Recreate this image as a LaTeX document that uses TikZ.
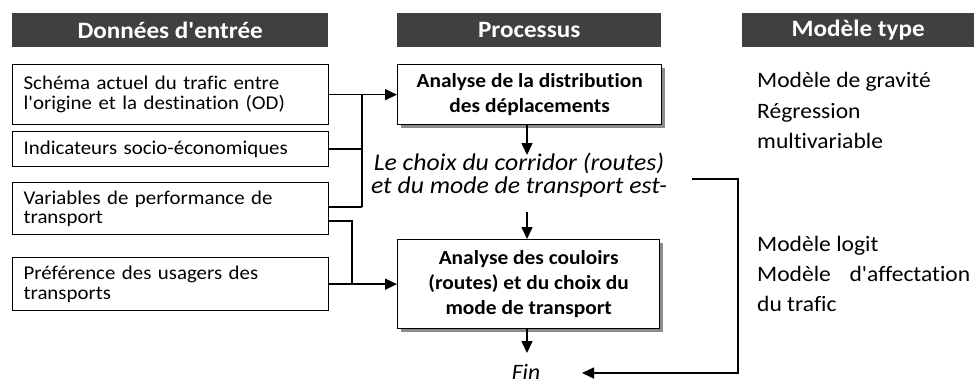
\documentclass[tikz,border=0pt]{standalone}
\usepackage{fontspec}
\setmainfont{Carlito}[FakeStretch=1.07, Ligatures={TeXOff,CommonOff}]
\usetikzlibrary{arrows.meta,shadows}
\definecolor{hdr}{HTML}{404040}
\begin{document}
\begin{tikzpicture}[x=1pt,y=-1pt,
  header/.style={fill=hdr, text=white, font=\bfseries\fontsize{23.5}{26}\selectfont,
    minimum height=34pt, inner sep=0pt, anchor=north west},
  inbox/.style={draw, line width=1.3pt, anchor=north west, minimum width=316pt,
    text width=294pt, inner xsep=11pt, inner ysep=0pt, align=left,
    font=\fontsize{19.5}{19.5}\selectfont},
  procbox/.style={draw, line width=1.3pt, fill=white, anchor=north west,
    inner sep=0pt, align=center, font=\bfseries\fontsize{20}{25}\selectfont,
    drop shadow={shadow xshift=3pt, shadow yshift=-3pt, fill=black!45, opacity=1}},
  model/.style={anchor=base west, inner sep=0pt, font=\fontsize{22}{22}\selectfont},
  conn/.style={line width=1.5pt},
  arr/.style={conn, -{Triangle[length=12pt,width=11pt]}}
]
\useasboundingbox (0,0) rectangle (974,383);

% column headers
\node[header, minimum width=316pt] (h1) at (12,13) {Données d'entrée};
\node[header, minimum width=264pt] (h2) at (397,13) {Processus};
\node[header, minimum width=232pt] (h3) at (742,13) {Modèle type};

% input data
\node[inbox, minimum height=60pt] (in1) at (12,64)
  {Schéma actuel du trafic entre\\l'origine et la destination (OD)};
\node[inbox, minimum height=35pt] (in2) at (12,131) {Indicateurs socio-économiques};
\node[inbox, minimum height=52pt] (in3) at (12,182) {Variables de performance de\\transport};
\node[inbox, minimum height=53pt] (in4) at (12,257) {Préférence des usagers des\\transports};

% process
\node[procbox, minimum width=264pt, minimum height=60pt] (p1) at (397,64)
  {Analyse de la distribution\\des déplacements};
\node[font=\itshape\fontsize{24}{23}\selectfont, align=center, inner sep=0pt] (choice)
  at (519,175) {Le choix du corridor (routes)\\et du mode de transport est-};
\node[procbox, minimum width=262pt, minimum height=89pt] (p2) at (397,239)
  {Analyse des couloirs\\(routes) et du choix du\\mode de transport};
\node[font=\itshape\fontsize{22}{24}\selectfont, inner sep=0pt, anchor=base] (fin)
  at (526,379) {Fin};

% model types
\node[model] (m1) at (757,87) {Modèle de gravité};
\node[model] (m2) at (757,118) {Régression};
\node[model] (m3) at (757,148.5) {multivariable};
\node[model] (m4) at (757,251) {Modèle logit};
\node[model] (m5) at (757,281.5) {\makebox[213pt][s]{Modèle d'affectation}};
\node[model] (m6) at (757,311.5) {du trafic};

% bus junctions
\coordinate (j1) at (362,94);
\coordinate (j2) at (362,207);
\coordinate (j3) at (352,221);
\coordinate (j4) at (352,283);
\coordinate (c1) at (692,179);
\coordinate (c2) at (738,179);
\coordinate (c3) at (738,373);
\coordinate (c4) at (582,373);

% connectors into the first analysis
\draw[arr] (in1.east) -- (p1.west);
\draw[conn] (j1) -- (j2);
\draw[conn] (in2.east) -- (in2.east -| j1);
\draw[conn] ([yshift=-25pt]in3.north east) -- (j2);
% connectors into the second analysis
\draw[conn] (in3.east |- j3) -- (j3) -- (j4);
\draw[arr] (in4.east) -- (p2.west);

% vertical flow
\draw[arr] (p1.south -| 527,0) -- (527,155);
\draw[arr] (527,212) -- (p2.north -| 527,0);
\draw[arr] (p2.south -| 527,0) -- (527,353);
\draw[arr] (c1) -- (c2) -- (c3) -- (c4);
\end{tikzpicture}
\end{document}
